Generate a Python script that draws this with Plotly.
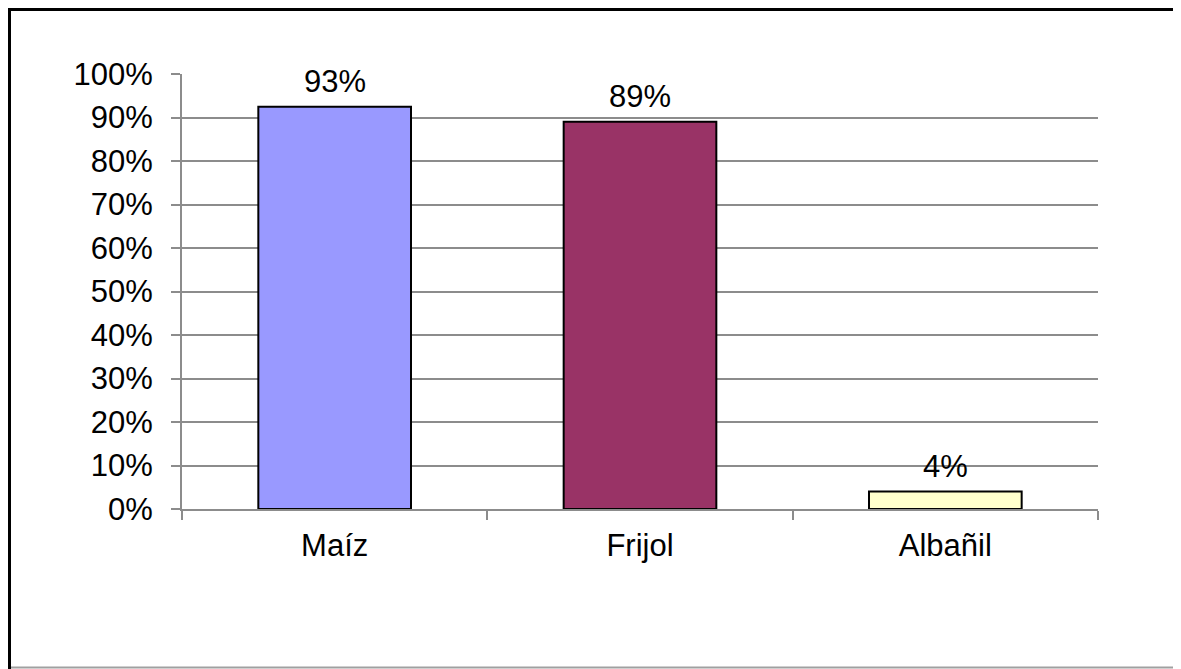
import plotly.graph_objects as go

# data
categories = ["Maíz", "Frijol", "Albañil"]
shares = [0.925, 0.89, 0.04]
share_labels = ["93%", "89%", "4%"]
bar_colors = ["#9999FF", "#993366", "#FFFFCC"]
y_ticks = [0, 0.1, 0.2, 0.3, 0.4, 0.5, 0.6, 0.7, 0.8, 0.9, 1.0]

# page body has an 8px margin, so the figure starts at (8, 8)
OFF = 8
W, H = 1181 - OFF, 669 - OFF
L, R, T, B = 182 - OFF, 83, 74 - OFF, 160
GRID = "#8C8C8C"
FONT = dict(family="Liberation Sans, Arial, sans-serif", size=31, color="#000000")

fig = go.Figure(
    go.Bar(
        x=categories,
        y=shares,
        marker=dict(color=bar_colors, line=dict(color="#000000", width=2)),
        width=0.5,
        hoverinfo="skip",
    )
)

for cat, val, lbl in zip(categories, shares, share_labels):
    fig.add_annotation(
        x=cat, y=val, text=lbl, showarrow=False,
        yanchor="bottom", yshift=6, font=FONT,
    )


def px_x(p):
    # screen pixel -> paper x
    return (p - OFF - L) / (W - L - R)


def px_y(p):
    # screen pixel -> paper y
    return (H - B - (p - OFF)) / (H - T - B)


# outer frame: heavy black top/left, thin grey bottom
fig.add_shape(type="line", xref="paper", yref="paper",
              x0=px_x(8), x1=px_x(1181), y0=px_y(9), y1=px_y(9),
              line=dict(color="#000000", width=4))
fig.add_shape(type="line", xref="paper", yref="paper",
              x0=px_x(9), x1=px_x(9), y0=px_y(8), y1=px_y(669),
              line=dict(color="#000000", width=4))
fig.add_shape(type="line", xref="paper", yref="paper",
              x0=px_x(11), x1=px_x(1181), y0=px_y(667.5), y1=px_y(667.5),
              line=dict(color="#A0A0A0", width=2))

fig.update_layout(
    width=W,
    height=H,
    margin=dict(l=L, r=R, t=T, b=B, pad=0),
    paper_bgcolor="#FFFFFF",
    plot_bgcolor="#FFFFFF",
    font=FONT,
    showlegend=False,
    xaxis=dict(
        type="category",
        showgrid=False,
        showline=True, linecolor=GRID, linewidth=2,
        ticks="outside", tickson="boundaries", ticklen=9, tickcolor=GRID, tickwidth=2,
        ticklabelstandoff=8,
        tickfont=FONT,
    ),
    yaxis=dict(
        range=[0, 1],
        tickvals=y_ticks,
        tickformat=".0%",
        showgrid=True, gridcolor=GRID, gridwidth=2,
        showline=True, linecolor=GRID, linewidth=2,
        ticks="outside", ticklen=9, tickcolor=GRID, tickwidth=2,
        ticklabelstandoff=12,
        zeroline=False,
        tickfont=FONT,
    ),
)

fig.write_html("out.html")
